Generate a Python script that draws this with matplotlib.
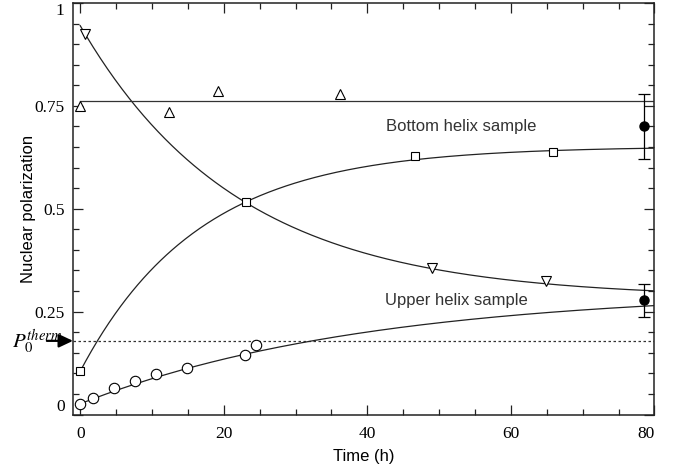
import matplotlib
matplotlib.use('Agg')
import matplotlib.pyplot as plt
import numpy as np

plt.rcParams['mathtext.fontset'] = 'stix'

# measured points
t_up = [0, 12.4, 19.2, 36.2]
p_up = [0.75, 0.736, 0.787, 0.779]

t_down = [0.7, 49.0, 64.9]
p_down = [0.925, 0.356, 0.324]

t_bottom = [0, 23.1, 46.6, 65.8]
p_bottom = [0.106, 0.517, 0.629, 0.637]

t_upper = [0, 1.75, 4.7, 7.65, 10.6, 14.9, 22.9, 24.5]
p_upper = [0.026, 0.041, 0.064, 0.082, 0.099, 0.114, 0.145, 0.169]

# reference measurements with error bars
t_ref = [78.6, 78.6]
p_ref = [0.700, 0.278]
p_ref_err = [0.079, 0.040]

# exponential fits: offset, amplitude, time constant (h)
fit_down = (0.283, 0.662, 22.0)
fit_bottom = (0.6515, -0.5465, 16.5)
fit_upper = (0.302, -0.276, 40.0)
p_const = 0.762
p_therm = 0.179

serif = 'Liberation Serif'
sans = 'Liberation Sans'

fig = plt.figure(figsize=(6.73, 4.69), dpi=100)
ax = fig.add_axes([0.1085, 0.1162, 0.864, 0.8774])

tt = np.linspace(0, 80, 400)
for a, b, tau in (fit_down, fit_bottom, fit_upper):
    ax.plot(tt, a + b * np.exp(-tt / tau), color='#222222', lw=0.9, zorder=2)

ax.plot([0, 80], [p_const, p_const], color='#333333', lw=0.9, zorder=2)
ax.axhline(p_therm, color='#333333', lw=0.9, ls=(0, (2, 2)), zorder=1)

mk = dict(ls='none', mfc='white', mec='black', mew=0.8, zorder=3)
ax.plot(t_up, p_up, marker='^', ms=6.5, **mk)
ax.plot(t_down, p_down, marker='v', ms=6.5, **mk)
ax.plot(t_bottom, p_bottom, marker='s', ms=6, **mk)
ax.plot(t_upper, p_upper, marker='o', ms=7.5, **mk)

ax.errorbar(t_ref, p_ref, yerr=p_ref_err, fmt='o', color='black', ms=6.5,
            elinewidth=0.9, capsize=4, capthick=0.9, zorder=4)

ax.text(42.6, 0.699, 'Bottom helix sample', fontsize=12, family=sans,
        color='#333333', va='center', ha='left')
ax.text(42.4, 0.278, 'Upper helix sample', fontsize=12, family=sans,
        color='#333333', va='center', ha='left')

# thermal equilibrium marker left of the axis
ax.annotate('', xy=(0, p_therm), xycoords=('axes fraction', 'data'),
            xytext=(-0.045, p_therm), textcoords=('axes fraction', 'data'),
            arrowprops=dict(arrowstyle='-|>,head_length=0.85,head_width=0.4',
                            color='black', lw=1.6, shrinkA=0, shrinkB=0),
            annotation_clip=False)
ax.text(-0.018, p_therm - 0.002, r'$P_0^{therm}$',
        transform=ax.get_yaxis_transform(),
        fontsize=15, ha='right', va='center')

ax.set_xlim(-1, 80)
ax.set_ylim(0, 1)
ax.set_xticks([0, 20, 40, 60, 80])
ax.set_xticks(np.arange(0, 81, 5), minor=True)
ax.set_yticks([0, 0.25, 0.5, 0.75, 1])
ax.set_yticklabels(['0', '0.25', '0.5', '0.75', '1'])
ax.set_yticks(np.arange(0, 1.001, 0.05), minor=True)

ax.tick_params(which='both', direction='in', top=True, right=True,
               width=0.9, color='#222222')
ax.tick_params(which='major', length=7, labelsize=12.5)
ax.tick_params(axis='x', which='major', pad=8)
ax.tick_params(axis='y', which='major', pad=6)
ax.tick_params(which='minor', length=4)
for lab in ax.get_xticklabels() + ax.get_yticklabels():
    lab.set_family(serif)

# end labels sit inside the frame
ylabs = ax.get_yticklabels()
ylabs[0].set_va('bottom')
ylabs[-1].set_va('top')
ax.get_xticklabels()[-1].set_ha('right')

for s in ax.spines.values():
    s.set_linewidth(1.1)
    s.set_color('#222222')

ax.set_xlabel('Time (h)', fontsize=12, family=sans, labelpad=5)
ax.set_ylabel('Nuclear polarization', fontsize=12, family=sans, labelpad=-1)

fig.savefig('out.png', dpi=100)
